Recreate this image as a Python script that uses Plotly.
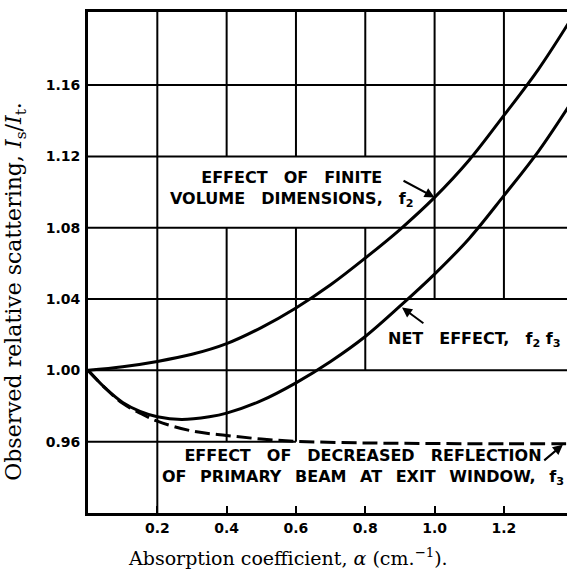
import plotly.graph_objects as go

# ---- data ----
x_f2 = [0, 0.1, 0.2, 0.3, 0.4, 0.5, 0.6, 0.7, 0.8, 0.9, 1.0, 1.1, 1.2, 1.3, 1.4]
f2 = [1.000, 1.002, 1.005, 1.009, 1.015, 1.024, 1.035, 1.048, 1.063, 1.079, 1.097, 1.118, 1.143, 1.169, 1.199]

x_net = [0, 0.05, 0.1, 0.15, 0.2, 0.27, 0.35, 0.4, 0.5, 0.6, 0.7, 0.8, 0.9, 1.0, 1.1, 1.2, 1.3, 1.4]
net = [1.000, 0.990, 0.982, 0.977, 0.974, 0.9725, 0.974, 0.976, 0.983, 0.993, 1.005, 1.019, 1.036, 1.054, 1.074, 1.098, 1.123, 1.152]

x_f3 = [0, 0.05, 0.1, 0.15, 0.2, 0.3, 0.4, 0.5, 0.6, 0.8, 1.0, 1.2, 1.4]
f3 = [1.000, 0.990, 0.9815, 0.976, 0.9715, 0.966, 0.9635, 0.9615, 0.9602, 0.9593, 0.959, 0.9588, 0.9588]

x_tick_vals = [0.2, 0.4, 0.6, 0.8, 1.0, 1.2]
x_tick_text = ["0.2", "0.4", "0.6", "0.8", "1.0", "1.2"]
y_tick_vals = [0.96, 1.00, 1.04, 1.08, 1.12, 1.16]
y_tick_text = ["0.96", "1.00", "1.04", "1.08", "1.12", "1.16"]

X_RANGE = [0, 1.382]
Y_RANGE = [0.92, 1.201]

# ---- figure ----
fig = go.Figure()
line_style = dict(color="black", width=3)
fig.add_trace(go.Scatter(x=x_f3, y=f3, mode="lines", line=dict(color="black", width=3, dash="15px,6px", shape="spline"), hoverinfo="skip"))
fig.add_trace(go.Scatter(x=x_f2, y=f2, mode="lines", line=dict(line_style, shape="spline"), hoverinfo="skip"))
fig.add_trace(go.Scatter(x=x_net, y=net, mode="lines", line=dict(line_style, shape="spline"), hoverinfo="skip"))

# grid lines (broken where the labels sit, as in the original drawing)
v_segments = {
    0.2: [(Y_RANGE[0], Y_RANGE[1])],
    0.4: [(0.96, 1.08), (1.12, Y_RANGE[1])],
    0.6: [(0.96, 1.08), (1.12, Y_RANGE[1])],
    0.8: [(1.00, 1.08), (1.12, Y_RANGE[1])],
    1.0: [(1.04, Y_RANGE[1])],
    1.2: [(1.04, Y_RANGE[1])],
}
h_segments = {
    0.96: [(0, 0.6)],
    1.00: [(0, X_RANGE[1])],
    1.04: [(0, X_RANGE[1])],
    1.08: [(0, X_RANGE[1])],
    1.12: [(0, X_RANGE[1])],
    1.16: [(0, X_RANGE[1])],
}
grid = dict(color="black", width=2)
for xv, segs in v_segments.items():
    for y0, y1 in segs:
        fig.add_shape(type="line", x0=xv, x1=xv, y0=y0, y1=y1, xref="x", yref="y", line=grid, layer="below")
for yv, segs in h_segments.items():
    for x0, x1 in segs:
        fig.add_shape(type="line", x0=x0, x1=x1, y0=yv, y1=yv, xref="x", yref="y", line=grid, layer="below")

lab_font = dict(family="DejaVu Sans", size=16, color="black", weight="bold")
E = "\u2003"
N = "\u2002 "
fig.add_annotation(x=0.588, y=1.1018, xref="x", yref="y", showarrow=False,
                   text=f"EFFECT{E}OF{E}FINITE<br>VOLUME{E}DIMENSIONS,{E}f<sub>2</sub>",
                   font=lab_font, xanchor="center", yanchor="middle", align="center")
fig.add_annotation(x=1.114, y=1.0174, xref="x", yref="y", showarrow=False,
                   text=f"NET{E}EFFECT,{E}f<sub>2</sub> f<sub>3</sub>",
                   font=lab_font, xanchor="center", yanchor="middle")
fig.add_annotation(x=0.793, y=0.9457, xref="x", yref="y", showarrow=False,
                   text=f"EFFECT{E}OF{E}DECREASED{E}REFLECTION<br>OF{N}PRIMARY{N}BEAM{N}AT{N}EXIT{N}WINDOW,{N}f<sub>3</sub>",
                   font=lab_font, xanchor="center", yanchor="middle", align="center")

# pointer arrows
arrow = dict(showarrow=True, arrowhead=2, arrowsize=1, arrowwidth=2, arrowcolor="black",
             xref="x", yref="y", axref="x", ayref="y", text="")
fig.add_annotation(x=1.0, y=1.097, ax=0.906, ay=1.1068, **arrow)
fig.add_annotation(x=0.906, y=1.0353, ax=0.972, ay=1.0258, **arrow)
fig.add_annotation(x=1.370, y=0.9583, ax=1.312, ay=0.9488, **arrow)

# axis titles
fig.add_annotation(x=(288 - 88) / 479, y=(513.4 - 557) / 501.4, xref="paper", yref="paper",
                   text="Absorption coefficient, <i>α</i> (cm.<sup>−1</sup>).", showarrow=False,
                   font=dict(family="DejaVu Serif", size=19, color="black"), xanchor="center", yanchor="middle")
fig.add_annotation(x=(16 - 88) / 479, y=(513.4 - 292) / 501.4, xref="paper", yref="paper",
                   text="Observed relative scattering, <i>I</i><sub>s</sub>/<i>I</i><sub>t</sub>.", showarrow=False,
                   font=dict(family="DejaVu Serif", size=22, color="black"), textangle=-90,
                   xanchor="center", yanchor="middle")

tick_font = dict(family="DejaVu Sans", size=14, color="black", weight="bold")
fig.update_xaxes(range=X_RANGE, tickvals=x_tick_vals, ticktext=x_tick_text, showgrid=False, zeroline=False,
                 showline=True, linecolor="black", linewidth=3, mirror=True,
                 ticks="inside", ticklen=7, tickwidth=2, tickcolor="black",
                 tickfont=tick_font, ticklabelstandoff=0)
fig.update_yaxes(range=Y_RANGE, tickvals=y_tick_vals, ticktext=y_tick_text, showgrid=False, zeroline=False,
                 showline=True, linecolor="black", linewidth=3, ticks="", tickfont=tick_font,
                 ticklabelstandoff=2)
fig.update_layout(width=567, height=572, margin=dict(l=88, r=0, t=12, b=59, autoexpand=False),
                  paper_bgcolor="white", plot_bgcolor="white", showlegend=False)

fig.write_html("out.html", config={"displayModeBar": False},
               post_script="document.body.style.margin='0';document.body.style.overflow='hidden';")
